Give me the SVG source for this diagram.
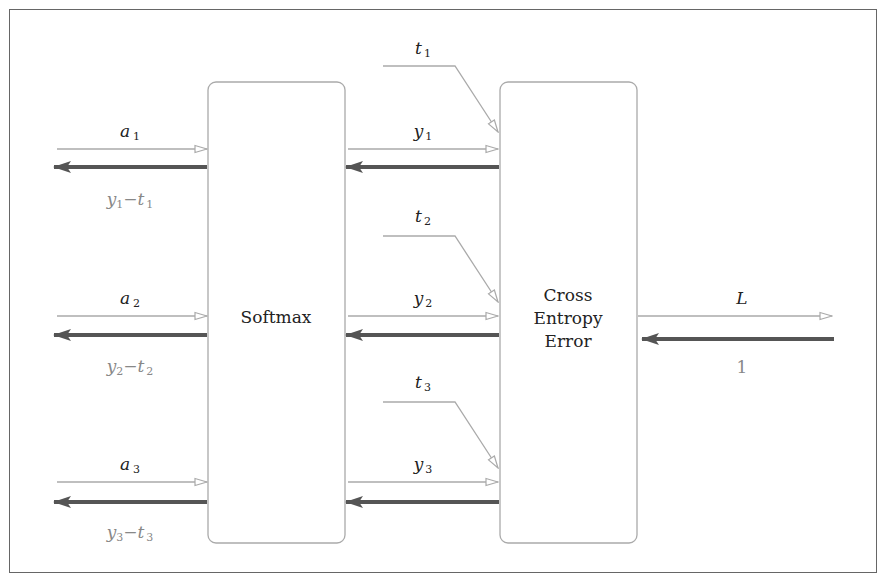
<svg xmlns="http://www.w3.org/2000/svg" width="886" height="582" viewBox="0 0 886 582">
<defs>
<style>
.box{fill:#fff;stroke:#aaa;stroke-width:1.3}
.thin{stroke:#aaa;stroke-width:1.3;fill:none}
.thick{stroke:#555;stroke-width:4;fill:none}
text{font-family:"DejaVu Serif","Liberation Serif",serif;font-size:17px;text-anchor:middle;fill:#222}
.m{font-style:italic}
.g{fill:#888}
.s{font-size:11px;font-style:normal}
</style>
<marker id="oa" markerWidth="14" markerHeight="10" refX="13" refY="5" orient="auto" markerUnits="userSpaceOnUse"><path d="M1,1.5 L13,5 L1,8.5 Z" fill="#fff" stroke="#aaa" stroke-width="1.2"/></marker>
<marker id="fa" markerWidth="18" markerHeight="12" refX="17" refY="6" orient="auto" markerUnits="userSpaceOnUse"><path d="M18,6 L0,0 L4,6 L0,12 Z" fill="#555"/></marker>
</defs>
<rect x="9.5" y="9.5" width="867" height="563" fill="#fff" stroke="#666" stroke-width="1"/>
<g id="softmax"><rect class="box" x="208" y="82" width="137" height="461" rx="8"/><text x="276" y="323">Softmax</text></g>
<g id="cee"><rect class="box" x="500" y="82" width="137" height="461" rx="8"/><text x="568" y="301">Cross</text><text x="568" y="324">Entropy</text><text x="568" y="347">Error</text></g>
<g id="connectors">
<line class="thin" x1="57" y1="149" x2="207" y2="149" marker-end="url(#oa)"/>
<line class="thick" x1="207" y1="167" x2="54" y2="167" marker-end="url(#fa)"/>
<line class="thin" x1="57" y1="316" x2="207" y2="316" marker-end="url(#oa)"/>
<line class="thick" x1="207" y1="335" x2="54" y2="335" marker-end="url(#fa)"/>
<line class="thin" x1="57" y1="482" x2="207" y2="482" marker-end="url(#oa)"/>
<line class="thick" x1="207" y1="502" x2="54" y2="502" marker-end="url(#fa)"/>
<line class="thin" x1="348" y1="149" x2="498" y2="149" marker-end="url(#oa)"/>
<line class="thick" x1="499" y1="167" x2="346" y2="167" marker-end="url(#fa)"/>
<line class="thin" x1="348" y1="316" x2="498" y2="316" marker-end="url(#oa)"/>
<line class="thick" x1="499" y1="335" x2="346" y2="335" marker-end="url(#fa)"/>
<line class="thin" x1="348" y1="482" x2="498" y2="482" marker-end="url(#oa)"/>
<line class="thick" x1="499" y1="502" x2="346" y2="502" marker-end="url(#fa)"/>
<path class="thin" d="M383,66 H455 L498,132" marker-end="url(#oa)"/>
<path class="thin" d="M383,236 H455 L498,302" marker-end="url(#oa)"/>
<path class="thin" d="M383,402 H455 L498,468" marker-end="url(#oa)"/>
<line class="thin" x1="638" y1="316" x2="832" y2="316" marker-end="url(#oa)"/>
<line class="thick" x1="834" y1="339" x2="642" y2="339" marker-end="url(#fa)"/>
</g>
<g id="labels">
<text class="m" x="130" y="137">a<tspan class="s" dx="3" dy="3">1</tspan></text>
<text class="m g" x="130" y="205">y<tspan class="s" dy="3">1</tspan><tspan dy="-3" style="font-style:normal">−</tspan>t<tspan class="s" dx="2" dy="3">1</tspan></text>
<text class="m" x="130" y="304">a<tspan class="s" dx="3" dy="3">2</tspan></text>
<text class="m g" x="130" y="372">y<tspan class="s" dy="3">2</tspan><tspan dy="-3" style="font-style:normal">−</tspan>t<tspan class="s" dx="2" dy="3">2</tspan></text>
<text class="m" x="130" y="470">a<tspan class="s" dx="3" dy="3">3</tspan></text>
<text class="m g" x="130" y="538">y<tspan class="s" dy="3">3</tspan><tspan dy="-3" style="font-style:normal">−</tspan>t<tspan class="s" dx="2" dy="3">3</tspan></text>
<text class="m" x="423" y="137">y<tspan class="s" dx="2" dy="3">1</tspan></text>
<text class="m" x="423" y="304">y<tspan class="s" dx="2" dy="3">2</tspan></text>
<text class="m" x="423" y="470">y<tspan class="s" dx="2" dy="3">3</tspan></text>
<text class="m" x="423" y="54">t<tspan class="s" dx="2" dy="3">1</tspan></text>
<text class="m" x="423" y="222">t<tspan class="s" dx="2" dy="3">2</tspan></text>
<text class="m" x="423" y="388">t<tspan class="s" dx="2" dy="3">3</tspan></text>
<text class="m" x="742" y="304">L</text>
<text class="g" x="742" y="373">1</text>
</g>
</svg>
